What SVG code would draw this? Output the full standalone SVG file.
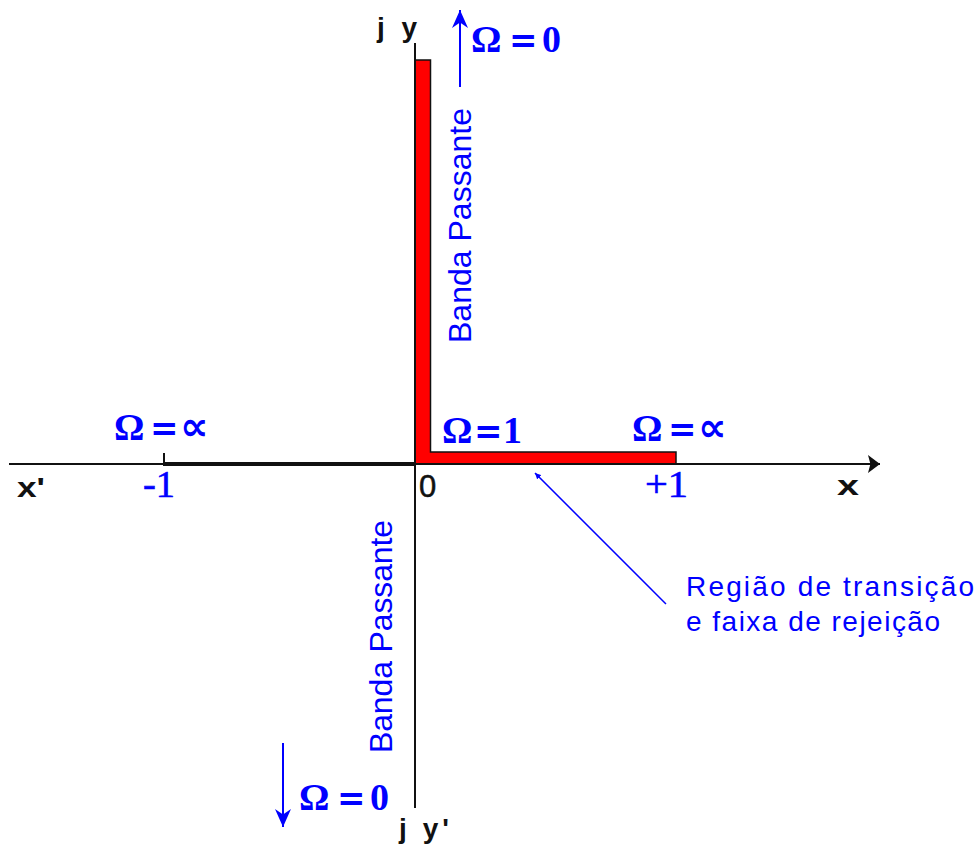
<svg xmlns="http://www.w3.org/2000/svg" width="978" height="849" viewBox="0 0 978 849">
<style>
.ax{stroke:#111;fill:none}
.om{font-family:"Liberation Serif",serif;font-weight:bold;font-size:38px;fill:#0000ff}
.eq{font-family:"DejaVu Sans",sans-serif;font-weight:bold;font-size:34px}
.pr{font-family:"DejaVu Sans",sans-serif;font-weight:bold;font-size:40px}
.num{font-family:"Liberation Serif",serif;font-size:38px;fill:#0000ff;stroke:#0000ff;stroke-width:0.6}
.lab{font-family:"Liberation Sans",sans-serif;font-weight:bold;font-size:28px;fill:#111}
.bp{font-family:"Liberation Sans",sans-serif;font-size:32px;fill:#0000ff}
.note{font-family:"Liberation Sans",sans-serif;font-size:28px;fill:#0000ff}
</style>
<defs>
<marker id="ah" viewBox="0 0 10 10" refX="10" refY="5" markerWidth="6" markerHeight="6" orient="auto" markerUnits="userSpaceOnUse">
<path d="M0,0 L10,5 L0,10 z" fill="#0000ff"/>
</marker>
<marker id="ahb" viewBox="0 0 10 10" refX="10" refY="5" markerWidth="12" markerHeight="18" orient="auto" markerUnits="userSpaceOnUse" preserveAspectRatio="none">
<path d="M0,0 L10,5 L0,10 L2,5 z" fill="#111"/>
</marker>
<marker id="ahv" viewBox="0 0 10 10" refX="10" refY="5" markerWidth="18" markerHeight="16" orient="auto" markerUnits="userSpaceOnUse" preserveAspectRatio="none">
<path d="M0,0 L10,5 L0,10 L3,5 z" fill="#0000ff"/>
</marker>
</defs>
<rect width="978" height="849" fill="#fff"/>

<g id="axes">
<line class="ax" x1="9" y1="464" x2="880" y2="464" stroke-width="2" marker-end="url(#ahb)"/>
<line class="ax" x1="163" y1="464" x2="415" y2="464" stroke-width="4"/>
<line class="ax" x1="164" y1="453" x2="164" y2="464" stroke-width="2"/>
<line class="ax" x1="415" y1="43" x2="415" y2="808" stroke-width="2"/>
</g>

<g id="band">
<path d="M416,60 L430.5,60 L430.5,452 L676,452 L676,463 L416,463 Z" fill="#ff0000"/>
<path d="M416,60 L430.5,60 L430.5,452 L676,452 L676,463" fill="none" stroke="#111" stroke-width="1.5"/>
</g>

<g id="connectors">
<line x1="460" y1="87" x2="460" y2="10" stroke="#0000ff" stroke-width="2" marker-end="url(#ahv)"/>
<line x1="283" y1="743" x2="283" y2="827" stroke="#0000ff" stroke-width="2" marker-end="url(#ahv)"/>
<line x1="666" y1="604" x2="535" y2="473" stroke="#0000ff" stroke-width="1.5" marker-end="url(#ah)"/>
</g>

<g id="labels-axes">
<text class="lab" x="377" y="37" textLength="40" lengthAdjust="spacing">j y</text>
<text class="lab" x="399" y="838" textLength="50" lengthAdjust="spacing">j y'</text>
<text class="lab" x="17" y="497" font-size="30" textLength="28" lengthAdjust="spacingAndGlyphs">x'</text>
<text class="lab" x="837" y="495" font-size="30" textLength="22" lengthAdjust="spacingAndGlyphs">x</text>
<text x="419" y="497" font-family="Liberation Sans, sans-serif" font-size="31" fill="#111" stroke="#111" stroke-width="0.5">0</text>
<text class="num" x="143" y="497" textLength="32" lengthAdjust="spacingAndGlyphs">-1</text>
<text class="num" x="645" y="497" textLength="43" lengthAdjust="spacingAndGlyphs">+1</text>
</g>

<g id="omega-labels">
<text class="om" y="52"><tspan x="471">Ω</tspan><tspan class="eq" x="509">=</tspan><tspan x="542">0</tspan></text>
<text class="om" y="810"><tspan x="299">Ω</tspan><tspan class="eq" x="337">=</tspan><tspan x="370">0</tspan></text>
<text class="om" y="443" font-size="35"><tspan x="442">Ω</tspan><tspan class="eq" x="474" font-size="26">=</tspan><tspan x="503">1</tspan></text>
<text class="om" y="441"><tspan x="632">Ω</tspan><tspan class="eq" x="668">=</tspan><tspan class="pr" x="698">∝</tspan></text>
<text class="om" y="440"><tspan x="114">Ω</tspan><tspan class="eq" x="150">=</tspan><tspan class="pr" x="180">∝</tspan></text>
</g>

<g id="passband-labels">
<text class="bp" transform="translate(471,343) rotate(-90)" textLength="235" lengthAdjust="spacing">Banda Passante</text>
<text class="bp" transform="translate(392,753) rotate(-90)" textLength="233" lengthAdjust="spacing">Banda Passante</text>
</g>

<g id="note">
<text class="note" x="686" y="596" textLength="288" lengthAdjust="spacing">Região de transição</text>
<text class="note" x="686" y="631" textLength="254" lengthAdjust="spacing">e faixa de rejeição</text>
</g>
</svg>
